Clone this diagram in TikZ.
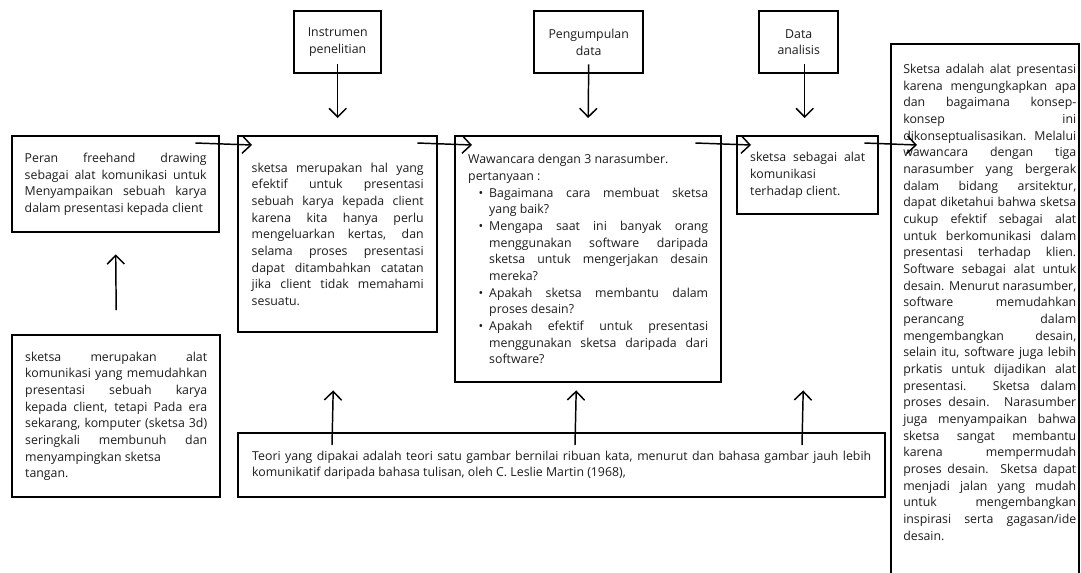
\documentclass[tikz,border=0pt]{standalone}
\usepackage{fontspec}
\setmainfont{Open Sans}
\definecolor{InkGray}{RGB}{28, 28, 28}
\usetikzlibrary{arrows.meta, calc}
\newcommand{\boxfont}{\fontsize{9.25}{12.5}\selectfont\parindent=0pt\hyphenpenalty=10000\exhyphenpenalty=10000}
\newcommand{\itembullet}{\leavevmode\llap{\textbullet\hspace{4.5pt}}}

\begin{document}
\begin{tikzpicture}[x=0.75pt, y=0.75pt,
    frame/.style={draw=black, line width=1.8pt, anchor=north west, inner sep=0pt,
                  text=InkGray, font=\boxfont, align=justify},
    head/.style={draw=black, line width=1.8pt, anchor=north west, inner sep=0pt,
                 text=InkGray, font=\boxfont, align=center, minimum height=46.5pt},
    link/.style={-{Straight Barb[length=6.5pt, width=13pt]}, line width=1.1pt}]
        \useasboundingbox (0,0) rectangle (1081,-572);
        \clip (0,0) rectangle (1081,-572);
        \node[head, minimum width=65.25pt] (instr) at (293,-10) {Instrumen\\penelitian};
        \node[head, minimum width=81.75pt] (peng)  at (533,-10) {Pengumpulan\\data};
        \node[head, minimum width=59.25pt] (anal)  at (758,-10) {Data\\analisis};
        \node[frame, minimum width=155.25pt, minimum height=72pt, text width=136.5pt]
             (peran) at (11,-135)
             {Peran freehand drawing\linebreak sebagai alat komunikasi untuk\linebreak
              Menyampaikan sebuah karya\linebreak dalam presentasi kepada client};
        \node[frame, minimum width=149.25pt, minimum height=147pt, text width=129pt]
             (efektif) at (237,-135)
             {sketsa merupakan hal yang\linebreak efektif untuk presentasi\linebreak
              sebuah karya kepada client\linebreak karena kita hanya perlu\linebreak
              mengeluarkan kertas, dan\linebreak selama proses presentasi\linebreak
              dapat ditambahkan catatan\linebreak jika client tidak memahami\linebreak
              sesuatu.};
        \node[frame, minimum width=199.5pt, minimum height=184.5pt, text width=180pt]
             (wawancara) at (454,-135)
             {Wawancara dengan 3 narasumber.\\pertanyaan :\par
              \leftskip=15.75pt
              \itembullet Bagaimana cara membuat sketsa\linebreak yang baik?\par
              \itembullet Mengapa saat ini banyak orang\linebreak menggunakan software daripada\linebreak
              sketsa untuk mengerjakan desain\linebreak mereka?\par
              \itembullet Apakah sketsa membantu dalam\linebreak proses desain?\par
              \itembullet Apakah efektif untuk presentasi\linebreak
              menggunakan sketsa daripada dari\linebreak software?\par};
        \node[frame, minimum width=105.75pt, minimum height=58.5pt, text width=86.25pt]
             (klien) at (736,-135)
             {sketsa sebagai alat\linebreak komunikasi\\terhadap client.};
        \node[frame, minimum width=156pt, minimum height=121.5pt, text width=136.5pt]
             (alat) at (11,-334)
             {sketsa merupakan alat\linebreak komunikasi yang memudahkan\linebreak
              presentasi sebuah karya\linebreak kepada client, tetapi Pada era\linebreak
              sekarang, komputer (sketsa 3d)\linebreak seringkali membunuh dan\linebreak
              menyampingkan sketsa\\tangan.};
        \node[frame, minimum width=485.25pt, minimum height=48pt, text width=464.25pt]
             (teori) at (237,-432)
             {Teori yang dipakai adalah teori satu gambar bernilai ribuan kata, menurut dan
              bahasa gambar jauh lebih\linebreak komunikatif daripada bahasa tulisan, oleh
              C. Leslie Martin (1968),};
        \draw[line width=1.8pt] (891,-44) rectangle (1079,-600);
        \node[anchor=north west, inner sep=0pt, text=InkGray, font=\boxfont,
              align=justify, text width=129.75pt] (hasil) at (903,-64)
             {Sketsa adalah alat presentasi\linebreak karena mengungkapkan apa\linebreak
              dan bagaimana konsep-\linebreak konsep ini\linebreak
              dikonseptualisasikan. Melalui\linebreak wawancara dengan tiga\linebreak
              narasumber yang bergerak\linebreak dalam bidang arsitektur,\linebreak
              dapat diketahui bahwa sketsa\linebreak cukup efektif sebagai alat\linebreak
              untuk berkomunikasi dalam\linebreak presentasi terhadap klien.\linebreak
              Software sebagai alat untuk\linebreak desain. Menurut narasumber,\linebreak
              software memudahkan\linebreak perancang dalam\linebreak
              mengembangkan desain,\linebreak selain itu, software juga lebih\linebreak
              prkatis untuk dijadikan alat\linebreak presentasi. Sketsa dalam\linebreak
              proses desain. Narasumber\linebreak juga menyampaikan bahwa\linebreak
              sketsa sangat membantu\linebreak karena mempermudah\linebreak
              proses desain. Sketsa dapat\linebreak menjadi jalan yang mudah\linebreak
              untuk mengembangkan\linebreak inspirasi serta gagasan/ide\linebreak
              desain.};
        \draw[link] ($(instr.south)+(0,10)$) -- ($(efektif.north)+(0,17)$);
        \draw[link] ($(peng.south)+(0,10)$) -- ($(wawancara.north)+(0,17)$);
        \draw[link] ($(anal.south)+(6,10)$) -- ($(klien.north)+(-3,17)$);
        \draw[link] ($(peran.north east)+(-25,-8)$) -- ($(efektif.north west)+(15,-10)$);
        \draw[link] ($(efektif.north east)+(-21,-8)$) -- ($(wawancara.north west)+(18,-10)$);
        \draw[link] ($(wawancara.north east)+(-27,-8)$) -- ($(klien.north west)+(15,-10)$);
        \draw[link] ($(klien.north east)+(-15,-8)$) -- ($(hasil.north west)+(14,-81)$);
        \draw[link] ($(alat.north)+(0,24)$) -- ($(peran.south)+(0,-21)$);
        \draw[link] ($(teori.north west)+(95,-13)$) -- ($(efektif.south)+(-4.5,-57)$);
        \draw[link] ($(teori.north west)+(338,-13)$) -- ($(wawancara.south)+(-12,-7)$);
        \draw[link] ($(teori.north west)+(565,-13)$) -- ($(klien.south)+(-4.5,-175)$);
      \end{tikzpicture}
\end{document}
